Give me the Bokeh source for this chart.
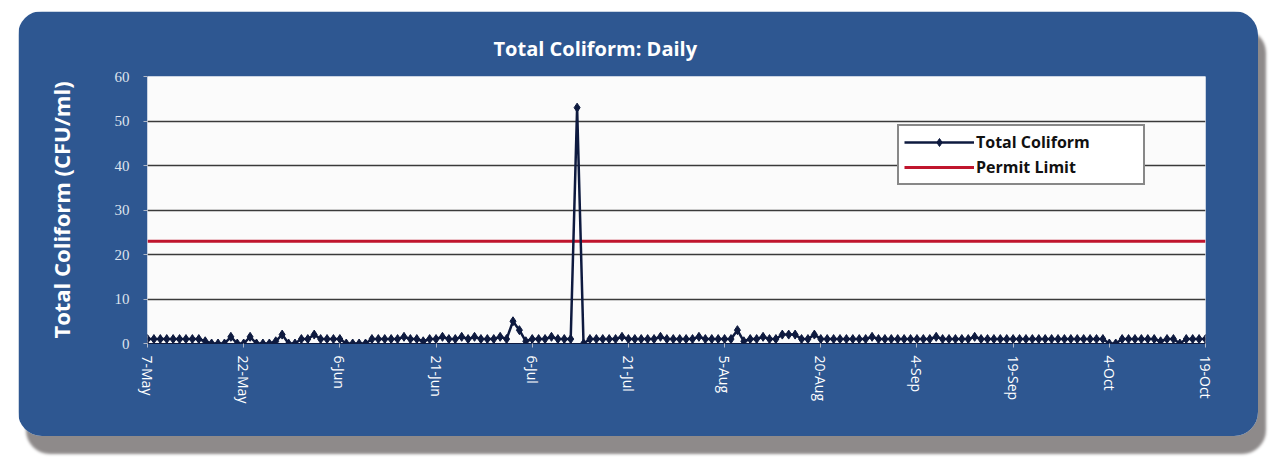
from bokeh.plotting import figure
from bokeh.models import FixedTicker, Legend, LegendItem, ColumnDataSource, Range1d
from bokeh.embed import file_html
from bokeh.resources import INLINE

# ---- data ----
tick_labels = ["7-May", "22-May", "6-Jun", "21-Jun", "6-Jul", "21-Jul",
               "5-Aug", "20-Aug", "4-Sep", "19-Sep", "4-Oct", "19-Oct"]
tick_days = [0, 15, 30, 45, 60, 75, 90, 105, 120, 135, 150, 165]

# daily Total Coliform (CFU/ml), day 0 = 7-May
total_coliform = [
    1, 1, 1, 1, 1, 1, 1, 1, 1, 0.5,          # d0-9
    0, 0, 0, 1.5, 0, 0, 1.5, 0, 0, 0,        # d10-19
    0.5, 2, 0, 0, 1, 1, 2, 1, 1, 1,          # d20-29
    1, 0, 0, 0, 0, 1, 1, 1, 1, 1,            # d30-39
    1.5, 1, 1, 0.5, 1, 1, 1.5, 1, 1, 1.5,    # d40-49
    1, 1.5, 1, 1, 1, 1.5, 1, 5, 3, 0.5,      # d50-59
    1, 1, 1, 1.5, 1, 1, 1, 53, 0, 1,         # d60-69
    1, 1, 1, 1, 1.5, 1, 1, 1, 1, 1,          # d70-79
    1.5, 1, 1, 1, 1, 1, 1.5, 1, 1, 1,        # d80-89
    1, 1, 3, 0.5, 1, 1, 1.5, 1, 1, 2,        # d90-99
    2, 2, 1, 1, 2, 1, 1, 1, 1, 1,            # d100-109
    1, 1, 1, 1.5, 1, 1, 1, 1, 1, 1,          # d110-119
    1, 1, 1, 1.5, 1, 1, 1, 1, 1, 1.5,        # d120-129
    1, 1, 1, 1, 1, 1, 1, 1, 1, 1,            # d130-139
    1, 1, 1, 1, 1, 1, 1, 1, 1, 1,            # d140-149
    0, 0, 1, 1, 1, 1, 1, 1, 0.5, 1,          # d150-159
    1, 0, 1, 1, 1, 1,                        # d160-165
]
permit_limit_value = 23

days = list(range(len(total_coliform)))
permit_limit = [permit_limit_value] * len(days)

src = ColumnDataSource(dict(day=days, tc=total_coliform, pl=permit_limit))

PANEL = "#2e5791"

p = figure(width=1240, height=425, output_backend="svg", toolbar_location=None,
           x_range=Range1d(0, 165), y_range=Range1d(0, 60),
           min_border_left=129, min_border_right=53, min_border_top=65, min_border_bottom=93,
           background_fill_color="#fbfbfb", border_fill_color=PANEL,
           outline_line_color=None, margin=(11, 0, 0, 18))
p.styles = {"border-radius": "24px", "overflow": "hidden",
            "box-shadow": "8px 18px 3px #8e8a8a"}

p.title.text = "Total Coliform: Daily"
p.title.text_color = "white"
p.title.text_font = "Open Sans"
p.title.text_font_size = "20px"
p.title.text_font_style = "bold"
p.title.align = "left"
p.title.offset = 346
p.title.standoff = 30

# permit limit
r_pl = p.line("day", "pl", source=src, line_color="#c0152d", line_width=3)
# total coliform
r_tc = p.line("day", "tc", source=src, line_color="#0e1a3f", line_width=2.5)
r_tcm = p.scatter("day", "tc", source=src, marker="diamond", size=9,
                  fill_color="#0e1a3f", line_color="#0e1a3f")

# axes
p.xaxis.ticker = FixedTicker(ticks=tick_days)
p.xaxis.major_label_overrides = {d: l for d, l in zip(tick_days, tick_labels)}
p.xaxis.major_label_orientation = "vertical"
p.xaxis.major_label_text_color = "white"
p.xaxis.major_label_text_font = "Open Sans"
p.xaxis.major_label_text_font_size = "14px"
p.xaxis.major_label_standoff = 8
p.xaxis.axis_line_color = "#0e1a3f"
p.xaxis.major_tick_line_color = "#b0b8c8"
p.xaxis.major_tick_out = 4
p.xaxis.major_tick_in = 0
p.xaxis.minor_tick_line_color = None

p.yaxis.ticker = FixedTicker(ticks=[0, 10, 20, 30, 40, 50, 60])
p.yaxis.major_label_text_color = "#dfe4ee"
p.yaxis.major_label_text_font = "Liberation Serif"
p.yaxis.major_label_text_font_size = "15px"
p.yaxis.major_label_standoff = 14
p.yaxis.axis_line_color = None
p.yaxis.major_tick_line_color = "#b0b8c8"
p.yaxis.major_tick_out = 4
p.yaxis.major_tick_in = 0
p.yaxis.minor_tick_line_color = None
p.yaxis.axis_label = "Total Coliform (CFU/ml)"
p.yaxis.axis_label_text_color = "white"
p.yaxis.axis_label_text_font = "Open Sans"
p.yaxis.axis_label_text_font_size = "22px"
p.yaxis.axis_label_text_font_style = "bold"
p.yaxis.axis_label_standoff = 36

p.xgrid.grid_line_color = None
p.ygrid.grid_line_color = "#3a3a3a"
p.ygrid.grid_line_width = 1.5

legend = Legend(items=[
    LegendItem(label="Total Coliform", renderers=[r_tc, r_tcm]),
    LegendItem(label="Permit Limit", renderers=[r_pl]),
], location=(750, 158))
legend.border_line_color = "#111111"
legend.border_line_width = 2
legend.background_fill_color = "white"
legend.background_fill_alpha = 1
legend.label_text_font = "Open Sans"
legend.label_text_font_style = "bold"
legend.label_text_font_size = "16px"
legend.label_text_color = "#111111"
legend.glyph_width = 70
legend.label_width = 162
legend.label_standoff = 2
legend.spacing = 3
legend.padding = 5
legend.margin = 0
legend.label_height = 20
legend.glyph_height = 20
p.add_layout(legend)

open("out.html", "w").write(file_html(p, INLINE))
